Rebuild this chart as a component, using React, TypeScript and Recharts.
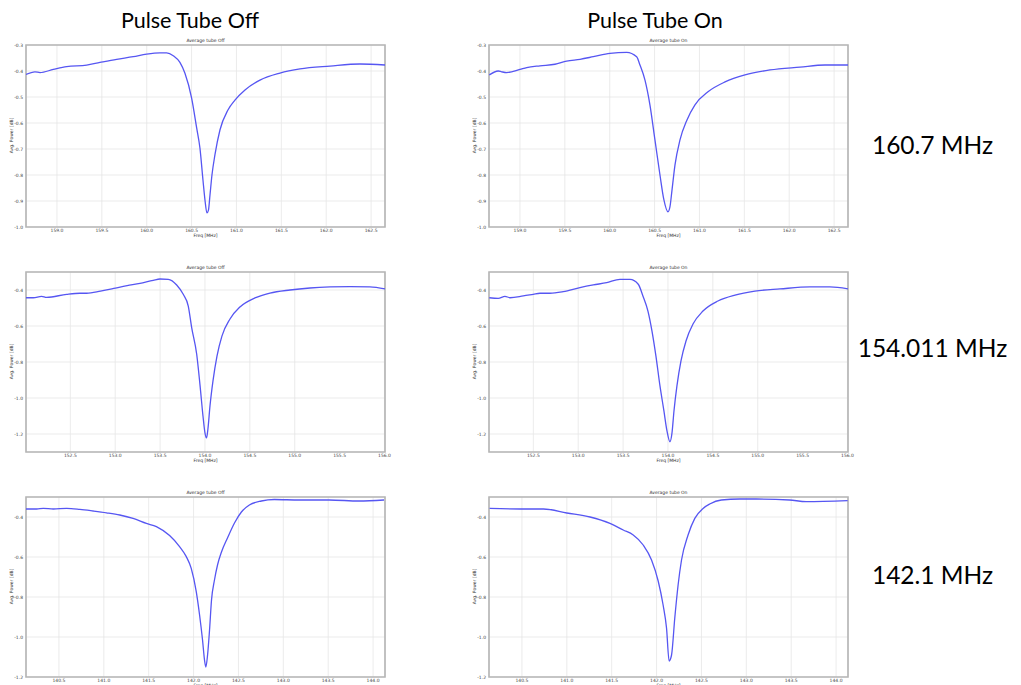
import React from "react";
import {
  LineChart,
  Line,
  CartesianGrid,
  XAxis,
  YAxis,
  ReferenceArea,
} from "recharts";

// ---- 160.7 MHz ----
const freq160Off = [158.655, 158.755, 158.811, 158.959, 159.108, 159.331, 159.479, 159.665, 159.85, 159.999, 160.148, 160.222, 160.296, 160.37, 160.426, 160.501, 160.557, 160.593, 160.627, 160.649, 160.671, 160.688, 160.705, 160.727, 160.76, 160.816, 160.905, 160.983, 161.095, 161.262, 161.485, 161.708, 162.042, 162.376, 162.655];
const pow160Off = [-0.413, -0.403, -0.406, -0.394, -0.383, -0.377, -0.367, -0.355, -0.345, -0.335, -0.33, -0.33, -0.341, -0.367, -0.409, -0.505, -0.62, -0.696, -0.82, -0.896, -0.946, -0.935, -0.877, -0.8, -0.723, -0.627, -0.55, -0.512, -0.473, -0.435, -0.408, -0.392, -0.381, -0.373, -0.377];
const freq160On = [158.658, 158.758, 158.796, 158.852, 159.0, 159.075, 159.223, 159.39, 159.52, 159.669, 159.817, 160.003, 160.189, 160.3, 160.337, 160.393, 160.448, 160.504, 160.56, 160.604, 160.649, 160.671, 160.694, 160.727, 160.783, 160.861, 160.95, 161.095, 161.285, 161.507, 161.786, 162.12, 162.399, 162.655];
const pow160On = [-0.415, -0.4, -0.403, -0.406, -0.394, -0.387, -0.38, -0.374, -0.362, -0.355, -0.345, -0.332, -0.328, -0.345, -0.377, -0.435, -0.53, -0.665, -0.8, -0.896, -0.942, -0.923, -0.858, -0.762, -0.665, -0.588, -0.53, -0.48, -0.442, -0.415, -0.396, -0.385, -0.377, -0.377];

// ---- 154.011 MHz ----
const freq154Off = [152.006, 152.087, 152.18, 152.236, 152.459, 152.607, 152.682, 152.836, 152.984, 153.133, 153.276, 153.424, 153.499, 153.591, 153.685, 153.758, 153.814, 153.852, 153.908, 153.944, 153.978, 154.0, 154.017, 154.033, 154.056, 154.089, 154.134, 154.189, 154.279, 154.39, 154.557, 154.724, 154.947, 155.17, 155.393, 155.616, 155.838, 156.006];
const pow154Off = [-0.443, -0.443, -0.435, -0.441, -0.424, -0.418, -0.418, -0.406, -0.391, -0.376, -0.363, -0.346, -0.339, -0.341, -0.372, -0.424, -0.489, -0.609, -0.757, -0.924, -1.1, -1.194, -1.222, -1.172, -1.044, -0.906, -0.767, -0.656, -0.561, -0.494, -0.444, -0.417, -0.4, -0.389, -0.383, -0.381, -0.383, -0.394];
const freq154On = [152.009, 152.109, 152.184, 152.24, 152.388, 152.499, 152.574, 152.685, 152.833, 153.019, 153.168, 153.317, 153.465, 153.577, 153.669, 153.721, 153.777, 153.822, 153.866, 153.911, 153.955, 153.989, 154.022, 154.045, 154.067, 154.1, 154.145, 154.201, 154.279, 154.39, 154.557, 154.747, 154.969, 155.248, 155.582, 155.805, 156.006];
const pow154On = [-0.443, -0.446, -0.435, -0.443, -0.433, -0.424, -0.418, -0.418, -0.409, -0.387, -0.372, -0.359, -0.341, -0.341, -0.368, -0.433, -0.517, -0.628, -0.767, -0.933, -1.072, -1.183, -1.243, -1.194, -1.072, -0.933, -0.794, -0.683, -0.589, -0.517, -0.461, -0.428, -0.406, -0.394, -0.383, -0.383, -0.394];

// ---- 142.1 MHz ----
const freq142Off = [140.133, 140.252, 140.326, 140.437, 140.586, 140.733, 140.881, 141.03, 141.178, 141.326, 141.474, 141.586, 141.733, 141.844, 141.919, 141.974, 142.03, 142.067, 142.1, 142.122, 142.137, 142.156, 142.178, 142.2, 142.233, 142.267, 142.311, 142.378, 142.456, 142.533, 142.622, 142.756, 142.9, 143.178, 143.511, 143.844, 144.122];
const pow142Off = [-0.36, -0.36, -0.357, -0.36, -0.357, -0.362, -0.37, -0.379, -0.39, -0.407, -0.432, -0.448, -0.493, -0.548, -0.598, -0.657, -0.773, -0.89, -1.015, -1.115, -1.15, -1.09, -0.965, -0.815, -0.715, -0.64, -0.575, -0.505, -0.43, -0.375, -0.34, -0.32, -0.3125, -0.315, -0.315, -0.32, -0.315];
const freq142On = [140.14, 140.481, 140.74, 141.0, 141.259, 141.481, 141.629, 141.74, 141.851, 141.944, 142.018, 142.073, 142.111, 142.14, 142.167, 142.203, 142.24, 142.278, 142.351, 142.426, 142.518, 142.592, 142.722, 142.926, 143.111, 143.481, 143.667, 144.129];
const pow142On = [-0.357, -0.36, -0.36, -0.38, -0.4, -0.432, -0.465, -0.49, -0.54, -0.615, -0.72, -0.84, -0.955, -1.12, -1.09, -0.905, -0.74, -0.615, -0.49, -0.407, -0.357, -0.335, -0.315, -0.31, -0.31, -0.315, -0.323, -0.318];

// ---- axes ----
const xTicks160 = [159.0, 159.5, 160.0, 160.5, 161.0, 161.5, 162.0, 162.5];
const xTicks154 = [152.5, 153.0, 153.5, 154.0, 154.5, 155.0, 155.5, 156.0];
const xTicks142 = [140.5, 141.0, 141.5, 142.0, 142.5, 143.0, 143.5, 144.0];
const yTicks160 = [-0.3, -0.4, -0.5, -0.6, -0.7, -0.8, -0.9, -1.0];
const yTicks154 = [-0.4, -0.6, -0.8, -1.0, -1.2];
const yTicks142 = [-0.4, -0.6, -0.8, -1.0, -1.2];

const columnTitles = ["Pulse Tube Off", "Pulse Tube On"];
const rowLabels = ["160.7 MHz", "154.011 MHz", "142.1 MHz"];

const zip = (f: number[], p: number[]) => f.map((v, i) => ({ f: v, p: p[i] }));

const small = "DejaVu Sans";

type PanelProps = {
  x: number;
  y: number;
  w: number;
  h: number;
  data: { f: number; p: number }[];
  xDomain: [number, number];
  xTicks: number[];
  yDomain: [number, number];
  yTicks: number[];
  title: string;
};

function Panel({ x, y, w, h, data, xDomain, xTicks, yDomain, yTicks, title }: PanelProps) {
  const padL = 30;
  const padT = 10;
  const padR = 10;
  const xh = 14;
  return (
    <>
      <div style={{ position: "absolute", left: x - padL, top: y - padT }}>
        <LineChart
          width={w + padL + padR}
          height={h + padT + xh}
          data={data}
          margin={{ top: padT, right: padR, left: 0, bottom: 0 }}
        >
          <CartesianGrid stroke="#e6e6e6" strokeWidth={0.8} />
          <XAxis
            dataKey="f"
            type="number"
            domain={xDomain}
            ticks={xTicks}
            allowDataOverflow
            height={xh}
            tickSize={0}
            tickMargin={2}
            axisLine={false}
            tick={{ fontSize: 4.5, fill: "#444", fontFamily: small }}
            tickFormatter={(v: number) => v.toFixed(1)}
          />
          <YAxis
            type="number"
            domain={yDomain}
            ticks={yTicks}
            allowDataOverflow
            width={padL}
            tickSize={0}
            tickMargin={3}
            axisLine={false}
            tick={{ fontSize: 4.5, fill: "#444", fontFamily: small }}
            tickFormatter={(v: number) => v.toFixed(1)}
          />
          <ReferenceArea
            x1={xDomain[0]}
            x2={xDomain[1]}
            y1={yDomain[0]}
            y2={yDomain[1]}
            fill="none"
            stroke="#b5b5b5"
            strokeWidth={1.6}
            ifOverflow="visible"
          />
          <Line
            type="monotone"
            dataKey="p"
            stroke="#5656f2"
            strokeWidth={1.3}
            dot={false}
            isAnimationActive={false}
          />
        </LineChart>
      </div>
      <div
        style={{
          position: "absolute",
          left: x,
          width: w,
          top: y - 7,
          textAlign: "center",
          fontSize: 4.5,
          fontFamily: small,
          color: "#333",
        }}
      >
        {title}
      </div>
      <div
        style={{
          position: "absolute",
          left: x - 15 - 40,
          width: 80,
          top: y + h / 2 - 3,
          textAlign: "center",
          fontSize: 4.5,
          fontFamily: small,
          color: "#333",
          transform: "rotate(-90deg)",
        }}
      >
        Avg. Power [dB]
      </div>
      <div
        style={{
          position: "absolute",
          left: x,
          width: w,
          top: y + h + 6,
          textAlign: "center",
          fontSize: 4.5,
          fontFamily: small,
          color: "#333",
        }}
      >
        Freq [MHz]
      </div>
    </>
  );
}

export default function App() {
  const rows = [
    { top: 45, h: 182, off: zip(freq160Off, pow160Off), on: zip(freq160On, pow160On), xd: [158.655, 162.655] as [number, number], xt: xTicks160, yd: [-1.0, -0.3] as [number, number], yt: yTicks160, label: 130 },
    { top: 272, h: 180, off: zip(freq154Off, pow154Off), on: zip(freq154On, pow154On), xd: [152.006, 156.006] as [number, number], xt: xTicks154, yd: [-1.3, -0.3] as [number, number], yt: yTicks154, label: 333 },
    { top: 497, h: 180, off: zip(freq142Off, pow142Off), on: zip(freq142On, pow142On), xd: [140.133, 144.133] as [number, number], xt: xTicks142, yd: [-1.2, -0.3] as [number, number], yt: yTicks142, label: 560 },
  ];
  return (
    <div
      style={{
        position: "absolute",
        left: 0,
        top: 0,
        width: 1021,
        height: 685,
        background: "#fff",
        overflow: "hidden",
      }}
    >
      {columnTitles.map((t, i) => (
        <div
          key={t}
          style={{
            position: "absolute",
            left: i === 0 ? 90 : 555,
            width: 200,
            top: 7,
            textAlign: "center",
            fontSize: 21.5,
            fontFamily: "Lato",
            color: "#000",
          }}
        >
          {t}
        </div>
      ))}
      {rows.map((r, i) => (
        <React.Fragment key={i}>
          <Panel x={26} y={r.top} w={359} h={r.h} data={r.off} xDomain={r.xd} xTicks={r.xt} yDomain={r.yd} yTicks={r.yt} title="Average tube Off" />
          <Panel x={489} y={r.top} w={359} h={r.h} data={r.on} xDomain={r.xd} xTicks={r.xt} yDomain={r.yd} yTicks={r.yt} title="Average tube On" />
          <div
            style={{
              position: "absolute",
              left: 840,
              width: 185,
              top: r.label,
              textAlign: "center",
              fontSize: 24.5,
              fontFamily: "Lato",
              color: "#000",
            }}
          >
            {rowLabels[i]}
          </div>
        </React.Fragment>
      ))}
    </div>
  );
}
